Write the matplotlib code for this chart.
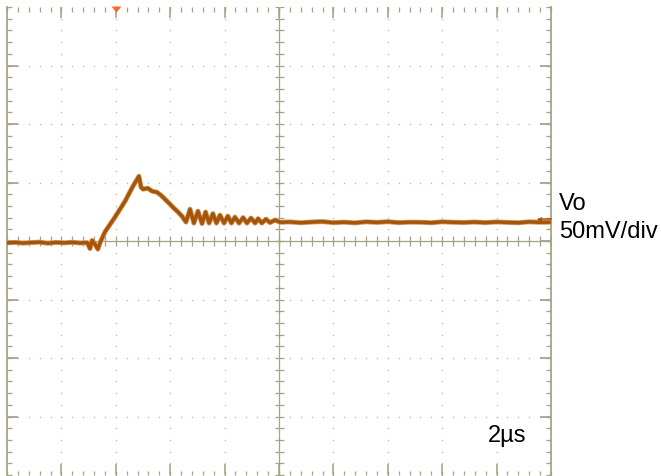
import matplotlib
matplotlib.use('agg')
from matplotlib import pyplot as plt
from matplotlib.path import Path
from matplotlib import markers
import numpy as np

# scope settings
time_per_div = 2.0     # us
volt_per_div = 50.0    # mV
n_xdiv, n_ydiv = 10, 8
trig_time = -6.0       # us
ref_level = 18.8       # mV, channel marker on right edge

# Vo trace (time in us, voltage in mV)
t_us = [-10.0, -9.7, -9.4, -9.1, -8.8, -8.5, -8.2, -7.9, -7.6, -7.3, -7.05,
        -6.95, -6.87, -6.76, -6.66, -6.58,
        -6.40, -6.03, -5.66, -5.37, -5.15,
        -5.07, -5.00, -4.82, -4.67, -4.49, -4.34, -4.19, -4.04, -3.90,
        -3.71, -3.57, -3.42,
        -3.27, -3.13, -2.98, -2.83, -2.70, -2.57, -2.43, -2.30, -2.17,
        -2.02, -1.88, -1.75, -1.62, -1.47, -1.32, -1.18, -1.03, -0.88,
        -0.77, -0.63, -0.48, -0.33, -0.15, 0.04,
        0.4, 0.8, 1.2, 1.6, 2.0, 2.4, 2.8, 3.2, 3.6, 4.0, 4.4, 4.8, 5.2,
        5.6, 6.0, 6.4, 6.8, 7.2, 7.6, 8.0, 8.4, 8.8, 9.2, 9.6, 10.0]
vo_mv = [-1.5, -1.2, -1.8, -1.3, -1.0, -1.9, -1.2, -1.6, -1.1, -1.7, -1.4,
         -6.5, 0.5, -3.0, -7.0, -1.5,
         7.7, 20.4, 34.0, 46.8, 55.3,
         46.0, 44.3, 45.1, 42.6, 41.7, 39.1, 35.7, 32.3, 28.9,
         24.7, 21.3, 16.2,
         27.2, 15.3, 25.5, 14.9, 24.7, 15.3, 23.4, 15.3, 22.1,
         15.3, 21.3, 15.3, 20.4, 15.3, 20.0, 15.3, 19.6, 15.3,
         19.1, 15.3, 18.7, 15.7, 17.9, 16.0,
         16.3, 15.6, 16.2, 16.6, 15.7, 16.1, 15.5, 16.4, 15.9, 16.5, 15.7,
         16.1, 16.0, 15.6, 16.4, 16.0, 15.8, 16.2, 15.7, 16.3, 15.9, 15.6,
         16.4, 16.0, 16.1]

grid_col = '#a8a286'
dot_col = '#bdb8a0'
trace_col = '#a65508'

W, H = 661, 477
fig = plt.figure(figsize=(W / 100, H / 100), dpi=100)
ax = fig.add_axes([7 / W, 1 / H, 544 / W, 468 / H])
xmax = time_per_div * n_xdiv / 2
ymax = volt_per_div * n_ydiv / 2
ax.set_xlim(-xmax, xmax)
ax.set_ylim(-ymax, ymax)
ax.axis('off')

px = 72 / 100  # points per pixel
minor_x = np.arange(-xmax, xmax + 1e-9, time_per_div / 5)
minor_y = np.arange(-ymax, ymax + 1e-9, volt_per_div / 5)
major_x = np.arange(-xmax + time_per_div, xmax - 1e-9, time_per_div)
major_y = np.arange(-ymax + volt_per_div, ymax - 1e-9, volt_per_div)

# dotted major grid
for x in major_x:
    if abs(x) > 1e-9:
        ax.plot(np.full_like(minor_y, x), minor_y, 's', ms=1.3 * px,
                color=dot_col, mec='none', zorder=1)
for y in major_y:
    if abs(y) > 1e-9:
        ax.plot(minor_x, np.full_like(minor_x, y), 's', ms=1.3 * px,
                color=dot_col, mec='none', zorder=1)

# centre cross with tick marks
ax.axvline(0, color=grid_col, lw=1.3 * px, zorder=1)
ax.axhline(0, color=grid_col, lw=1.3 * px, zorder=1)
ax.plot(np.zeros_like(minor_y), minor_y, '_', ms=9 * px, mew=1.3 * px,
        color=grid_col, zorder=1)
ax.plot(minor_x, np.zeros_like(minor_x), '|', ms=10 * px, mew=1.3 * px,
        color=grid_col, zorder=1)

# left / right borders
for x, mk in [(-xmax, markers.TICKRIGHT), (xmax, markers.TICKLEFT)]:
    ax.plot([x, x], [-ymax, ymax], color=grid_col, lw=1.8 * px,
            clip_on=False, zorder=1)
    ax.plot(np.full_like(minor_y, x), minor_y, ls='none', marker=mk,
            ms=5 * px, mew=1.3 * px, color=grid_col, clip_on=False)
    ax.plot(np.full_like(major_y, x), major_y, ls='none', marker=mk,
            ms=11 * px, mew=1.8 * px, color=grid_col, clip_on=False)

# top / bottom tick rows
for y, mk in [(ymax, markers.TICKDOWN), (-ymax, markers.TICKUP)]:
    ax.plot(minor_x, np.full_like(minor_x, y), ls='none', marker=mk,
            ms=4.5 * px, mew=1.3 * px, color=grid_col, clip_on=False)
    ax.plot(major_x, np.full_like(major_x, y), ls='none', marker=mk,
            ms=11 * px, mew=1.6 * px, color=grid_col, clip_on=False)

# trace
ax.plot(t_us, vo_mv, color='#cf9a64', lw=5.0 * px, zorder=3)
ax.plot(t_us, vo_mv, color=trace_col, lw=3.4 * px, zorder=4)

# channel reference marker on the right
ax.plot([xmax - 0.45, xmax], [ref_level, ref_level], color=trace_col,
        lw=1.5 * px, zorder=5, clip_on=False)
ax.plot([xmax - 0.45], [ref_level], marker='<', ms=5 * px,
        color=trace_col, mec='none', zorder=5)

# trigger position marker
tri = Path([(-5, 3), (5, 3), (0, -3), (-5, 3)],
           [Path.MOVETO, Path.LINETO, Path.LINETO, Path.CLOSEPOLY])
ax.plot([trig_time], [ymax - 2 * volt_per_div / 58.5], marker=tri,
        ms=10 * px, color='#fa6a26', mec='none', clip_on=False, zorder=6)

font = dict(family='Liberation Sans', size=17, color='black', va='baseline')
fig.text(559 / W, 1 - 210 / H, 'Vo', **font)
fig.text(559 / W, 1 - 238 / H, '50mV/div', **font)
fig.text(488 / W, 1 - 442 / H, '2\u00b5s', **font)

fig.savefig('out.png', dpi=100, facecolor='white')
